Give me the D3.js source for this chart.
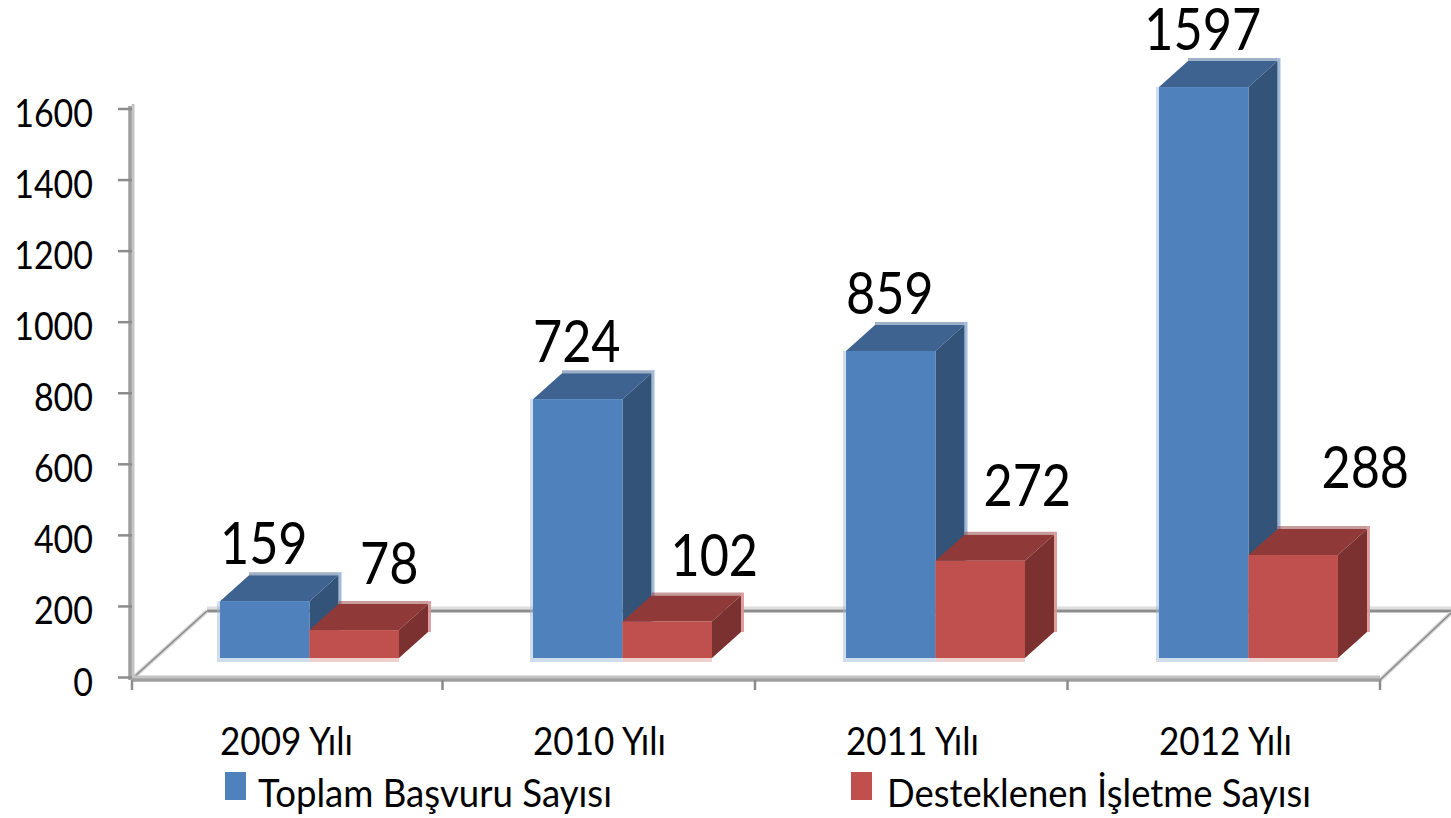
<!DOCTYPE html>
<html>
<head>
<meta charset="utf-8">
<script src="https://cdn.jsdelivr.net/npm/d3@7"></script>
<style>
  html, body { margin: 0; padding: 0; background: #fff; }
  svg { display: block; }
  text { font-family: Lato, "Noto Sans", sans-serif; fill: #000; }
</style>
</head>
<body>
<div id="chart"></div>
<script>
const years = ['2009 Yılı', '2010 Yılı', '2011 Yılı', '2012 Yılı'];
const seriesNames = ['Toplam Başvuru Sayısı', 'Desteklenen İşletme Sayısı'];
const basvuru = [159, 724, 859, 1597];
const desteklenen = [78, 102, 272, 288];
const yTicks = [0, 200, 400, 600, 800, 1000, 1200, 1400, 1600];

const W = 1451, H = 818;
const svg = d3.select('#chart').append('svg').attr('width', W).attr('height', H);

// x0 = floor ticks, xBars = year bands for the boxes (a hair wider in the original),
// x1 = the two bars inside a band
const x0 = d3.scaleBand().domain(years).range([130, 1380]);
const xBars = d3.scaleBand().domain(years).range([132, 1384]);
const x1 = d3.scaleBand().domain(seriesNames).range([88, 267]);
const y = d3.scaleLinear().domain([0, 1600]).range([677, 108.5]);
const yBars = d3.scaleLinear().domain([0, 1600]).range([658, 86]);   // boxes stand inside the floor
const dx = 29, dy = -26;        // 3d depth

const faces = [
  { front: '#4f81bd', top: '#3e6390', side: '#335378', halo: '#95b3d7' },
  { front: '#c0504d', top: '#8f3a38', side: '#7b3130', halo: '#d99694' }
];

// squeeze Lato down to the narrower glyphs of the original
const fit = (sel, w) => sel.attr('textLength', w).attr('lengthAdjust', 'spacingAndGlyphs');

// ---- floor + wall ----
const wallX = 132, floorY = 680, backY = 611, rightX = x0.range()[1];
const grid = svg.append('g');
grid.append('line').attr('x1', 207).attr('x2', W).attr('y1', backY - 3).attr('y2', backY - 3)
  .attr('stroke', '#dedede').attr('stroke-width', 3);
grid.append('line').attr('x1', 207).attr('x2', W).attr('y1', backY).attr('y2', backY)
  .attr('stroke', '#8c8c8c').attr('stroke-width', 3);
[[wallX + 2, floorY - 3, 207, backY], [rightX, floorY, W, 613]].forEach(l => {
  grid.append('line').attr('x1', l[0]).attr('y1', l[1]).attr('x2', l[2]).attr('y2', l[3])
    .attr('stroke', '#d4d4d4').attr('stroke-width', 4);
  grid.append('line').attr('x1', l[0]).attr('y1', l[1]).attr('x2', l[2]).attr('y2', l[3])
    .attr('stroke', '#8c8c8c').attr('stroke-width', 1.6);
});

// ---- y axis ----
svg.append('line').attr('x1', wallX + 1).attr('x2', wallX + 1).attr('y1', 104).attr('y2', 680)
  .attr('stroke', '#c4c4c4').attr('stroke-width', 3);
const yAxis = svg.append('g').attr('transform', `translate(${wallX},0)`)
  .call(d3.axisLeft(y).tickValues(yTicks).tickSize(14).tickFormat(d3.format('d')));
yAxis.select('.domain').attr('d', 'M-2,106V680').attr('stroke', '#9e9e9e').attr('stroke-width', 3.5).attr('fill', 'none');
yAxis.selectAll('.tick line').attr('stroke', '#8c8c8c').attr('stroke-width', 2.5);
yAxis.selectAll('.tick text').attr('font-size', 39).attr('dy', null).attr('y', 18).attr('x', -39)
  .attr('fill', '#000').each(function (d) { fit(d3.select(this), String(d).length * 19.7); });

// ---- x axis ----
const xAxis = svg.append('g').attr('transform', `translate(0,${floorY})`);
xAxis.append('line').attr('x1', wallX).attr('x2', rightX).attr('y1', -3).attr('y2', -3)
  .attr('stroke', '#c4c4c4').attr('stroke-width', 3);
xAxis.append('line').attr('x1', wallX).attr('x2', rightX).attr('y1', 0).attr('y2', 0)
  .attr('stroke', '#9e9e9e').attr('stroke-width', 3.5);
xAxis.selectAll('line.edge').data([wallX].concat(years.slice(1).map(d => x0(d)), rightX)).join('line').attr('class', 'edge')
  .attr('x1', d => d).attr('x2', d => d).attr('y1', 0).attr('y2', 10)
  .attr('stroke', '#8c8c8c').attr('stroke-width', 2.5);
const xLabels = svg.append('g').attr('transform', `translate(-2,${floorY})`)
  .call(d3.axisBottom(xBars).tickSize(0));
xLabels.select('.domain').remove();
xLabels.selectAll('text').attr('font-size', 38).attr('fill', '#000').attr('dy', null).attr('y', 75);
fit(xLabels.selectAll('text'), 133);

// ---- bars ----
const rows = years.flatMap((yr, i) => [
  { yr, s: 0, v: basvuru[i] },
  { yr, s: 1, v: desteklenen[i] }
]);
const poly = pts => pts.map(p => p.join(',')).join(' ');

const gBars = svg.append('g');
rows.forEach(d => {
  const c = faces[d.s];
  const xl = xBars(d.yr) + x1(seriesNames[d.s]), w = x1.bandwidth();
  const xr = xl + w, yt = yBars(d.v), yb = yBars(0);
  const g = gBars.append('g');
  // pale glow round the box, none on the red's left where it meets the blue
  const pad = d.s ? 0 : 3;
  g.append('rect').attr('x', xl - pad).attr('y', yt).attr('width', w + pad).attr('height', yb - yt + 4)
    .attr('fill', c.halo).attr('opacity', .45);
  g.append('rect').attr('x', xr + dx).attr('y', yt + dy - 3).attr('width', 3).attr('height', yb - yt + 3)
    .attr('fill', c.halo).attr('opacity', .9);
  g.append('polygon').attr('points', poly([[xl + dx, yt + dy - 3], [xr + dx, yt + dy - 3], [xr + dx, yt + dy], [xl + dx, yt + dy]]))
    .attr('fill', c.top).attr('opacity', .5);
  g.append('polygon').attr('points', poly([[xl, yt], [xl + dx, yt + dy], [xr + dx, yt + dy], [xr, yt]]))
    .attr('fill', c.top);
  g.append('polygon').attr('points', poly([[xr, yt], [xr + dx, yt + dy], [xr + dx, yb + dy], [xr, yb]]))
    .attr('fill', c.side);
  g.append('rect').attr('x', xl).attr('y', yt).attr('width', w).attr('height', yb - yt).attr('fill', c.front);
});

// ---- data labels: red ones were dragged by hand in the original ----
const redNudge = [[35, 46], [47, 46], [47, 55], [72, 67]];
const gLabels = svg.append('g');
rows.forEach(d => {
  const i = years.indexOf(d.yr);
  const cx = xBars(d.yr) + x1(seriesNames[d.s]) + x1.bandwidth() / 2;
  const top = yBars(d.v);
  const t = gLabels.append('text').attr('text-anchor', 'middle').attr('font-size', 58)
    .attr('x', d.s ? cx + redNudge[i][0] : cx - 1)
    .attr('y', d.s ? top - redNudge[i][1] : top - 37)
    .text(d.v);
  fit(t, String(d.v).length * 29.2);
});

// ---- legend ----
const legendX = [225, 851], legendTextX = [258, 887], legendTextW = [354, 424];
const legend = svg.append('g').selectAll('g').data(seriesNames).join('g');
legend.append('rect').attr('x', (d, i) => legendX[i]).attr('y', 772).attr('width', 21).attr('height', 28)
  .attr('fill', (d, i) => faces[i].front);
legend.append('text').attr('x', (d, i) => legendTextX[i]).attr('y', 807).attr('font-size', 38).text(d => d)
  .each(function (d, i) { fit(d3.select(this), legendTextW[i]); });
</script>
</body>
</html>
